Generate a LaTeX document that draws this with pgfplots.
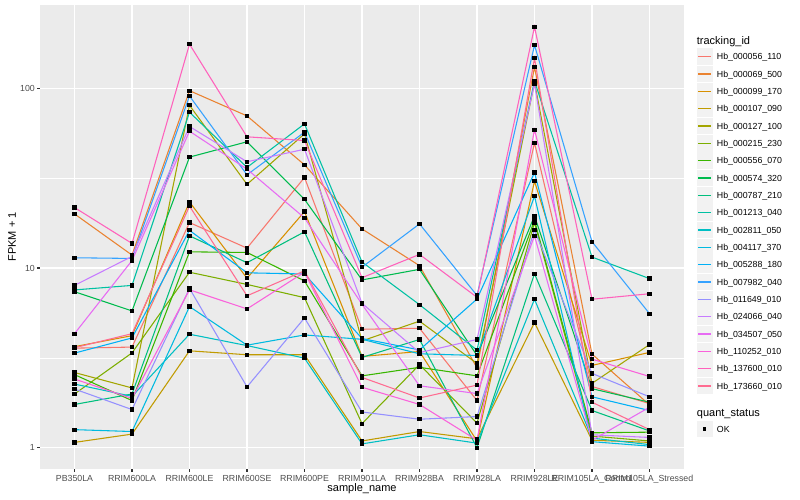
\documentclass[border=0pt]{standalone}
\usepackage{pgfplots}
\pgfplotsset{compat=1.18}
\usepackage{pgfplotstable}
\usepackage{fontspec}
\setmainfont{Liberation Sans}

% ggplot hue palette, 20 levels
\definecolor{c01}{HTML}{F8766D}
\definecolor{c02}{HTML}{EA8331}
\definecolor{c03}{HTML}{D89000}
\definecolor{c04}{HTML}{C09B00}
\definecolor{c05}{HTML}{A3A500}
\definecolor{c06}{HTML}{7CAE00}
\definecolor{c07}{HTML}{39B600}
\definecolor{c08}{HTML}{00BB4E}
\definecolor{c09}{HTML}{00BF7D}
\definecolor{c10}{HTML}{00C1A3}
\definecolor{c11}{HTML}{00BFC4}
\definecolor{c12}{HTML}{00BAE0}
\definecolor{c13}{HTML}{00B0F6}
\definecolor{c14}{HTML}{35A2FF}
\definecolor{c15}{HTML}{9590FF}
\definecolor{c16}{HTML}{C77CFF}
\definecolor{c17}{HTML}{E76BF3}
\definecolor{c18}{HTML}{FA62DB}
\definecolor{c19}{HTML}{FF62BC}
\definecolor{c20}{HTML}{FF6C91}
\definecolor{panelbg}{HTML}{EBEBEB}
\definecolor{keybg}{HTML}{F2F2F2}
\definecolor{tickcol}{HTML}{333333}
\definecolor{ticklab}{HTML}{4D4D4D}

% FPKM + 1, one row per sample (1 = PB350LA ... 11 = RRIM105LA_Stressed)
\pgfplotstableread{
x  s01  s02  s03  s04  s05  s06  s07  s08  s09  s10  s11  s12  s13  s14  s15  s16  s17  s18  s19  s20
1  3.58 20.0 3.65 1.07 2.62 1.99 2.55 7.38 1.74 7.55 2.26 1.26 3.36 11.4 2.12 8.0  4.31 2.41 21.7 3.60
2  3.63 11.8 4.20 1.19 2.15 3.37 1.83 5.77 1.99 8.0  1.93 1.23 4.08 11.3 1.63 11.6 11.0 1.88 13.7 4.31
3  17.9 97   23.3 3.46 80.4 9.47 12.3 41.4 15.1 73.6 4.28 6.10 16.2 90.6 7.70 61.3 57.7 7.56 176  22.1
4  12.9 70.2 8.77 3.29 29.2 8.10 12.2 50.4 10.7 36.3 3.70 3.72 9.40 33.0 2.18 39.0 35.5 5.92 53.7 7.00
5  31.9 37.5 20.6 3.29 55.8 6.84 8.47 24.1 15.9 63.4 3.15 4.24 9.26 57.0 5.27 45.8 19.0 9.48 51.2 9.65
6  4.56 16.5 3.22 1.09 3.93 1.36 2.51 8.58 3.18 10.8 1.05 4.01 4.05 10.1 1.58 6.36 6.28 2.17 8.83 2.46
7  4.62 10.3 3.43 1.23 5.06 2.90 2.80 9.83 4.00 6.25 1.18 3.33 3.50 17.6 1.44 3.38 2.21 1.74 11.9 1.89
8  1.83 2.78 1.09 1.12 2.94 1.37 2.51 3.26 1.00 3.49 1.06 3.26 6.72 7.03 1.49 4.00 2.00 1.10 6.87 2.23
9  49.7 131  30.4 4.97 108  17.9 18.4 19.5 9.30 110  6.70 25.1 34.0 174  16.3 106  15.1 58.9 220  147
10 2.19 3.32 2.87 1.10 2.28 1.16 1.21 2.13 1.61 11.5 1.13 1.08 1.92 14.0 2.59 1.18 1.10 3.11 6.70 1.79
11 1.76 1.73 3.39 1.07 3.75 1.09 1.22 1.79 1.24 8.73 1.04 1.02 1.61 5.57 1.92 1.14 1.68 2.49 7.19 1.26
}\fpkm

\begin{document}
\begin{tikzpicture}
\useasboundingbox (0,0) rectangle (800bp,500bp);
\begin{axis}[
  at={(40bp,31bp)}, anchor=south west,
  width=644bp, height=464bp, scale only axis,
  xmin=0.4, xmax=11.6,
  ymode=log, ymin=0.761, ymax=290.8,
  axis background/.style={fill=panelbg},
  axis lines*=left, axis line style={draw=none},
  xtick={1,...,11},
  xticklabels={PB350LA,RRIM600LA,RRIM600LE,RRIM600SE,RRIM600PE,RRIM901LA,RRIM928BA,RRIM928LA,RRIM928LE,RRIM105LA\_Control,RRIM105LA\_Stressed},
  ytick={1,10,100}, yticklabels={1,10,100},
  minor ytick={3.16228,31.6228},
  grid=both,
  major grid style={white, line width=1.07bp},
  minor grid style={white, line width=0.53bp},
  tick align=outside, major tick length=2.75bp, minor tick length=0pt,
  tick style={tickcol, line width=1.07bp},
  ticklabel style={font=\fontsize{8.8bp}{10bp}\selectfont, text=ticklab, inner sep=0pt},
  xticklabel style={anchor=north, yshift=-3bp},
  yticklabel style={anchor=east, xshift=-2.2bp},
  xlabel={sample\_name}, ylabel={FPKM + 1},
  label style={font=\fontsize{11bp}{13bp}\selectfont, inner sep=0pt},
  xlabel style={at={(axis description cs:0.5,-0.0485)}, anchor=base},
  ylabel style={at={(axis description cs:-0.0373,0.5)}, anchor=base},
]
\addplot[c01, line width=1.07bp] table[x=x, y=s01] {\fpkm};
\addplot[c02, line width=1.07bp] table[x=x, y=s02] {\fpkm};
\addplot[c03, line width=1.07bp] table[x=x, y=s03] {\fpkm};
\addplot[c04, line width=1.07bp] table[x=x, y=s04] {\fpkm};
\addplot[c05, line width=1.07bp] table[x=x, y=s05] {\fpkm};
\addplot[c06, line width=1.07bp] table[x=x, y=s06] {\fpkm};
\addplot[c07, line width=1.07bp] table[x=x, y=s07] {\fpkm};
\addplot[c08, line width=1.07bp] table[x=x, y=s08] {\fpkm};
\addplot[c09, line width=1.07bp] table[x=x, y=s09] {\fpkm};
\addplot[c10, line width=1.07bp] table[x=x, y=s10] {\fpkm};
\addplot[c11, line width=1.07bp] table[x=x, y=s11] {\fpkm};
\addplot[c12, line width=1.07bp] table[x=x, y=s12] {\fpkm};
\addplot[c13, line width=1.07bp] table[x=x, y=s13] {\fpkm};
\addplot[c14, line width=1.07bp] table[x=x, y=s14] {\fpkm};
\addplot[c15, line width=1.07bp] table[x=x, y=s15] {\fpkm};
\addplot[c16, line width=1.07bp] table[x=x, y=s16] {\fpkm};
\addplot[c17, line width=1.07bp] table[x=x, y=s17] {\fpkm};
\addplot[c18, line width=1.07bp] table[x=x, y=s18] {\fpkm};
\addplot[c19, line width=1.07bp] table[x=x, y=s19] {\fpkm};
\addplot[c20, line width=1.07bp] table[x=x, y=s20] {\fpkm};

% points on top of all lines
\pgfplotsinvokeforeach{01,02,03,04,05,06,07,08,09,10,11,12,13,14,15,16,17,18,19,20}{
  \addplot[only marks, mark=square*, mark size=1.6bp,
    mark options={black, fill=black, line width=0pt}] table[x=x, y=s#1] {\fpkm};
}
\end{axis}

% legends (ggplot style keys)
\node[anchor=base west, inner sep=0pt, font=\fontsize{11bp}{13bp}\selectfont]
  at (696.7bp,455.35bp) {tracking\_id};
\begin{scope}[font=\fontsize{8.8bp}{10bp}\selectfont]
\foreach \c/\n [count=\i from 0] in {
    c01/Hb\_000056\_110, c02/Hb\_000069\_500, c03/Hb\_000099\_170, c04/Hb\_000107\_090,
    c05/Hb\_000127\_100, c06/Hb\_000215\_230, c07/Hb\_000556\_070, c08/Hb\_000574\_320,
    c09/Hb\_000787\_210, c10/Hb\_001213\_040, c11/Hb\_002811\_050, c12/Hb\_004117\_370,
    c13/Hb\_005288\_180, c14/Hb\_007982\_040, c15/Hb\_011649\_010, c16/Hb\_024066\_040,
    c17/Hb\_034507\_050, c18/Hb\_110252\_010, c19/Hb\_137600\_010, c20/Hb\_173660\_010}{
  \pgfmathsetmacro\ym{443.3-17.33*\i}
  \pgfmathsetmacro\yt{\ym+8.3}
  \pgfmathsetmacro\yb{\ym-8.3}
  \pgfmathsetmacro\ybase{\ym-3.15}
  \fill[keybg] (696.7bp,\yb bp) rectangle (712.7bp,\yt bp);
  \draw[\c, line width=1.07bp] (698.2bp,\ym bp) -- (711.2bp,\ym bp);
  \node[anchor=base west, inner sep=0pt] at (716.7bp,\ybase bp) {\n};
}
\fill[keybg] (696.7bp,62.7bp) rectangle (712.7bp,79.3bp);
\fill[black] (703bp,69.3bp) rectangle (706.4bp,72.7bp);
\node[anchor=base west, inner sep=0pt] at (716.7bp,67.85bp) {OK};
\end{scope}
\node[anchor=base west, inner sep=0pt, font=\fontsize{11bp}{13bp}\selectfont]
  at (696.7bp,83.75bp) {quant\_status};
\end{tikzpicture}
\end{document}
